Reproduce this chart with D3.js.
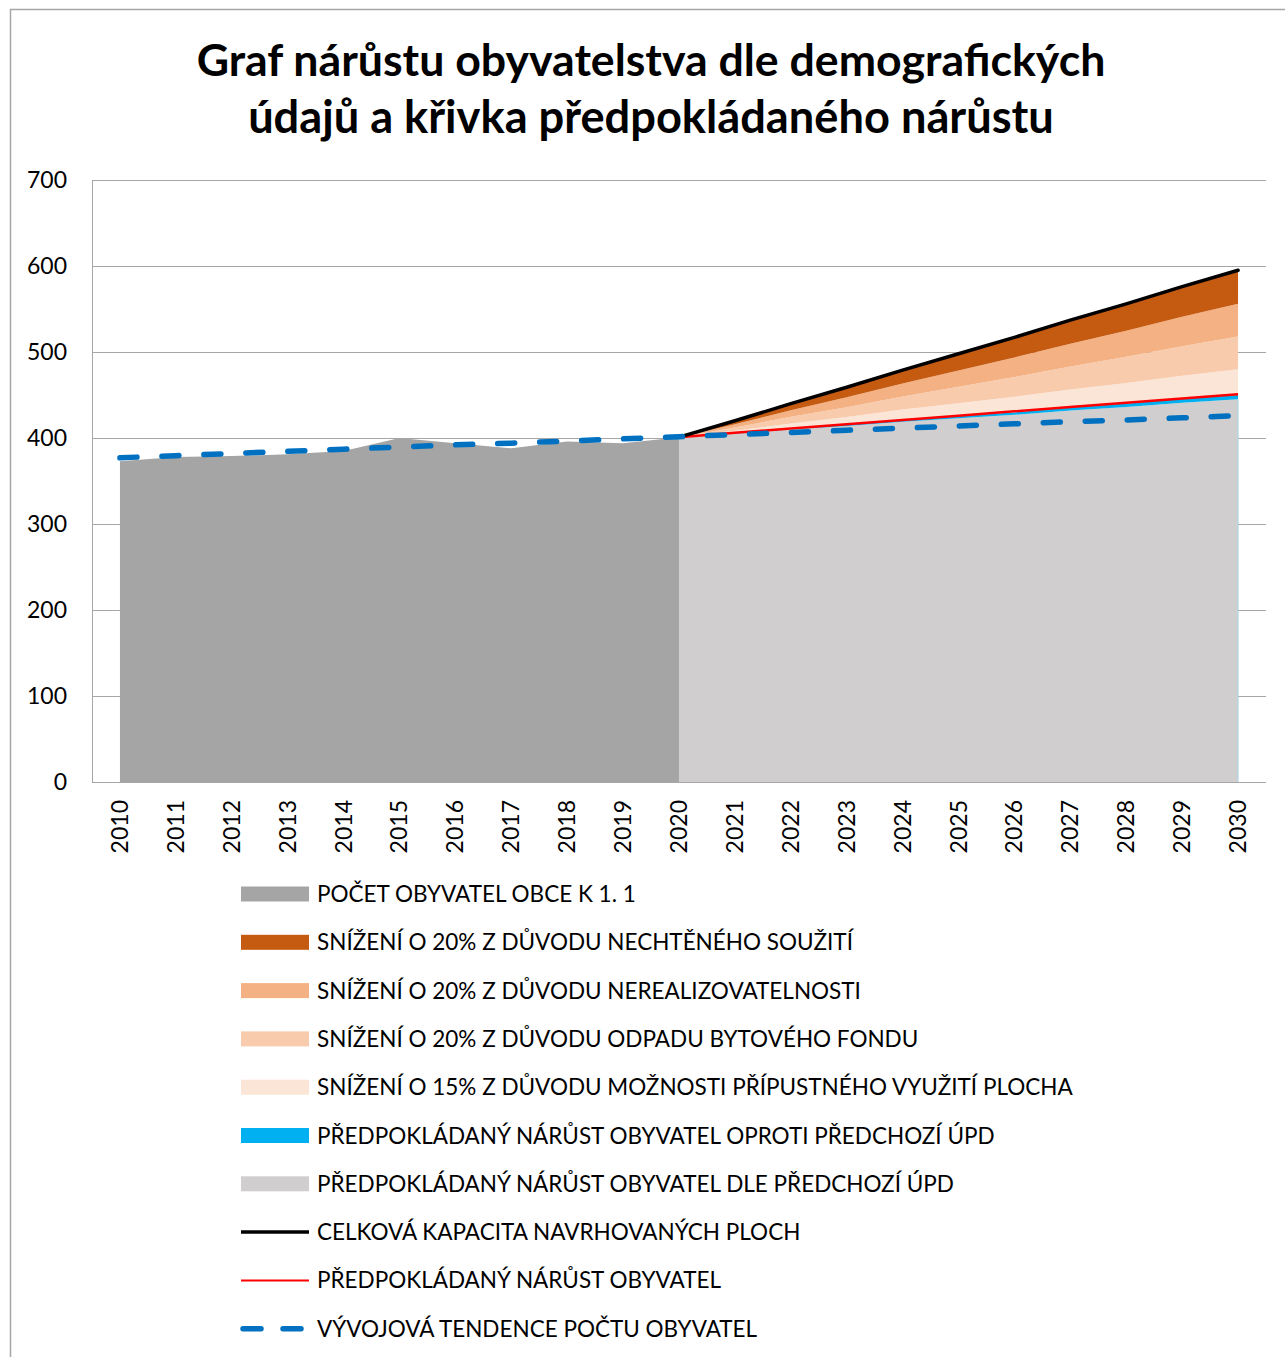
<!DOCTYPE html>
<html><head><meta charset="utf-8">
<script src="https://cdn.jsdelivr.net/npm/d3@7"></script>
<style>html,body{margin:0;padding:0;background:#fff;} svg{display:block;font-family:Lato,"Open Sans",sans-serif;}</style>
</head><body>
<svg id="c" width="1285" height="1357"></svg>
<script>
// ---- data ----
const titleLines = ["Graf nárůstu obyvatelstva dle demografických", "údajů a křivka předpokládaného nárůstu"];
const years = ["2010","2011","2012","2013","2014","2015","2016","2017","2018","2019","2020","2021","2022","2023","2024","2025","2026","2027","2028","2029","2030"];
const yTicks = [0,100,200,300,400,500,600,700];
// historical population 2010-2020
const histYears = ["2010","2011","2012","2013","2014","2015","2016","2017","2018","2019","2020"];
const histValues = [373, 378, 379, 381, 385, 400, 394, 388, 396, 394, 401];
// forecast 2020-2030 (stacked components)
const fcYears = ["2020","2021","2022","2023","2024","2025","2026","2027","2028","2029","2030"];
const prevUpd   = [401, 405, 410, 414, 419, 423, 427, 432, 436, 441, 445]; // dle předchozí ÚPD
const overUpd   = [0, 0.5, 1, 1.5, 2, 2.5, 3, 3.5, 4, 4.5, 5];              // oproti předchozí ÚPD
const red15     = [0, 3, 6, 9, 12, 15, 18, 21, 24, 27, 30];                  // 15 % možnosti přípustného využití
const red20a    = [0, 3.8, 7.6, 11.4, 15.2, 19, 22.8, 26.6, 30.4, 34.2, 38]; // odpad bytového fondu
const red20b    = [0, 3.8, 7.6, 11.4, 15.2, 19, 22.8, 26.6, 30.4, 34.2, 38]; // nerealizovatelnost
const red20c    = [0, 3.9, 7.8, 11.7, 15.6, 19.5, 23.4, 27.3, 31.2, 35.1, 39]; // nechtěné soužití
const capacity  = [401, 420, 440, 459, 479, 498, 517, 537, 556, 576, 595];
const predicted = [401, 406, 411, 416, 421, 426, 431, 436, 441, 446, 451];
const trendValues = [377, 379.5, 382, 384.5, 387, 389.5, 392, 394, 396.5, 399, 401.5, 404, 406.5, 409, 411.5, 414, 416.5, 419, 421, 423.5, 426];

const legendItems = [
  {label:"POČET OBYVATEL OBCE K 1. 1", type:"rect", color:"#A5A5A5"},
  {label:"SNÍŽENÍ O 20% Z DŮVODU NECHTĚNÉHO SOUŽITÍ", type:"rect", color:"#C55A11"},
  {label:"SNÍŽENÍ O 20% Z DŮVODU NEREALIZOVATELNOSTI", type:"rect", color:"#F4B183"},
  {label:"SNÍŽENÍ O 20% Z DŮVODU ODPADU BYTOVÉHO FONDU", type:"rect", color:"#F8CBAD"},
  {label:"SNÍŽENÍ O 15% Z DŮVODU MOŽNOSTI PŘÍPUSTNÉHO VYUŽITÍ PLOCHA", type:"rect", color:"#FBE5D6"},
  {label:"PŘEDPOKLÁDANÝ NÁRŮST OBYVATEL OPROTI PŘEDCHOZÍ ÚPD", type:"rect", color:"#00B0F0"},
  {label:"PŘEDPOKLÁDANÝ NÁRŮST OBYVATEL DLE PŘEDCHOZÍ ÚPD", type:"rect", color:"#D0CECE"},
  {label:"CELKOVÁ KAPACITA NAVRHOVANÝCH PLOCH", type:"line", color:"#000000", w:3.5},
  {label:"PŘEDPOKLÁDANÝ NÁRŮST OBYVATEL", type:"line", color:"#FF0000", w:2},
  {label:"VÝVOJOVÁ TENDENCE POČTU OBYVATEL", type:"dash", color:"#0070C0", w:5.5}
];

// ---- drawing ----
const svg = d3.select("#c");
svg.append("rect").attr("x",10.5).attr("y",9.5).attr("width",1400).attr("height",1400)
  .attr("fill","#fff").attr("stroke","#a6a6a6").attr("stroke-width",1.5);

// title
const tW = [909, 806];
titleLines.forEach((t,i)=>{
  const el = svg.append("text").attr("x",651).attr("y",[76,133][i]).attr("text-anchor","middle")
    .attr("font-weight","bold").attr("font-size",40).attr("fill","#000").text(t);
  const w = el.node().getComputedTextLength();
  el.attr("font-size", 40*tW[i]/w);
});

const x = d3.scalePoint().domain(years).range([92,1266]).padding(0.5);
const y = d3.scaleLinear().domain([0,700]).range([782,180]);

// gridlines / y axis
const yAxis = d3.axisLeft(y).tickValues(yTicks).tickSize(-(1266-92)).tickPadding(25);
const gy = svg.append("g").attr("transform","translate(92,0)").call(yAxis);
gy.select(".domain").attr("stroke","#a6a6a6");
gy.selectAll(".tick line").attr("stroke","#a6a6a6").attr("stroke-width",1.2);
gy.selectAll(".tick text").attr("font-size",23).attr("fill","#000").attr("font-family","Lato");

// areas
const histData = histYears.map((yr,i)=>({yr, v:histValues[i]}));
svg.append("path").datum(histData).attr("fill","#A5A5A5")
  .attr("d", d3.area().x(d=>x(d.yr)).y0(y(0)).y1(d=>y(d.v)));

const fcRows = fcYears.map((yr,i)=>({yr, prevUpd:prevUpd[i], overUpd:overUpd[i], red15:red15[i], red20a:red20a[i], red20b:red20b[i], red20c:red20c[i]}));
const keys = ["prevUpd","overUpd","red15","red20a","red20b","red20c"];
const colors = {prevUpd:"#D0CECE", overUpd:"#00B0F0", red15:"#FBE5D6", red20a:"#F8CBAD", red20b:"#F4B183", red20c:"#C55A11"};
const stacked = d3.stack().keys(keys)(fcRows);
const area = d3.area().x(d=>x(d.data.yr)).y0(d=>y(d[0])).y1(d=>y(d[1]));
svg.selectAll(".fc").data(stacked).join("path").attr("class","fc")
  .attr("fill",d=>colors[d.key]).attr("d",area);
// thin edge at the end of forecast area
svg.append("line").attr("x1",x("2030")).attr("x2",x("2030")).attr("y1",y(0)).attr("y2",y(prevUpd[10]))
  .attr("stroke","#a9d6e8").attr("stroke-width",1);

// x axis line
svg.append("line").attr("x1",92).attr("x2",1266).attr("y1",782.5).attr("y2",782.5).attr("stroke","#a6a6a6").attr("stroke-width",1.2);

// lines
const ln = d3.line().x(d=>x(d.yr)).y(d=>y(d.v));
svg.append("path").datum(fcYears.map((yr,i)=>({yr,v:predicted[i]}))).attr("fill","none")
  .attr("stroke","#FF0000").attr("stroke-width",2.5).attr("d",ln);
svg.append("path").datum(fcYears.map((yr,i)=>({yr,v:capacity[i]}))).attr("fill","none")
  .attr("stroke","#000").attr("stroke-width",3.5).attr("stroke-linecap","round").attr("d",ln);
svg.append("path").datum(years.map((yr,i)=>({yr,v:trendValues[i]}))).attr("fill","none")
  .attr("stroke","#0070C0").attr("stroke-width",5.5).attr("stroke-linecap","round")
  .attr("stroke-dasharray","17 25").attr("d",ln);

// x labels
svg.append("g").selectAll("text").data(years).join("text")
  .attr("transform",d=>`translate(${x(d)+8},800) rotate(-90)`)
  .attr("text-anchor","end").attr("font-size",23).attr("fill","#000").text(d=>d);

// legend
const lg = svg.append("g");
const texts = [];
legendItems.forEach((it,i)=>{
  const cy = 894 + i*48.3;
  if(it.type==="rect"){
    lg.append("rect").attr("x",241).attr("y",cy-7.5).attr("width",68).attr("height",15).attr("fill",it.color);
  } else if(it.type==="line"){
    lg.append("line").attr("x1",241).attr("x2",309).attr("y1",cy).attr("y2",cy).attr("stroke",it.color).attr("stroke-width",it.w);
  } else {
    lg.append("line").attr("x1",243).attr("x2",307).attr("y1",cy).attr("y2",cy).attr("stroke",it.color)
      .attr("stroke-width",it.w).attr("stroke-linecap","round").attr("stroke-dasharray","18 22");
  }
  texts.push(lg.append("text").attr("x",317).attr("y",cy+8).attr("font-size",22).attr("fill","#000").text(it.label));
});
// fit legend font so that the longest label matches the reference width
const longest = texts[4].node().getComputedTextLength();
const fs = 22*756/longest;
texts.forEach(t=>t.attr("font-size",fs));
</script>
</body></html>
